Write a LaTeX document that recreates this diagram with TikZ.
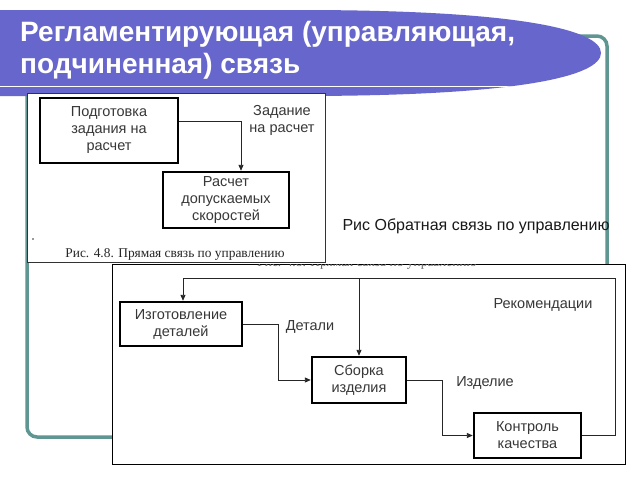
\documentclass[tikz,border=0pt]{standalone}
\usepackage{fontspec}
\setmainfont{Liberation Sans}
\newfontfamily\capserif{Liberation Serif}
\usetikzlibrary{arrows.meta}
\definecolor{titlebg}{RGB}{102,102,204}
\definecolor{frameteal}{RGB}{95,150,145}
\definecolor{txtgray}{RGB}{55,55,55}
\begin{document}
\begin{tikzpicture}[x=1pt,y=-1pt,
  blk/.style={draw=black, line width=2.4pt, fill=white, inner sep=0pt, align=center,
    text=txtgray, font=\fontsize{14.5}{17}\selectfont},
  lbl/.style={inner sep=0pt, align=center, text=txtgray, font=\fontsize{14.5}{17}\selectfont},
  conn/.style={draw=black!85, line width=0.9pt, -{Triangle[length=6pt,width=5pt]}},
  figframe/.style={fill=white, inner sep=0pt, anchor=north west},
  capstyle/.style={inner sep=0pt, font=\capserif\fontsize{13.4}{15}\selectfont, text=black!85}]
\useasboundingbox (0,0) rectangle (640,480);
\fill[white] (0,0) rectangle (640,480);
% teal frame
\draw[frameteal, line width=3.5pt, rounded corners=10pt] (27,36) rectangle (607,437);
% title shape
\path[fill=titlebg] (0,10) -- (300,10) .. controls (520,10) and (601,30) .. (601,53)
  .. controls (601,76) and (520,96) .. (300,96) -- (0,96) -- cycle;
\begin{scope}
  \clip (0,10) -- (300,10) .. controls (520,10) and (601,30) .. (601,53)
  .. controls (601,76) and (520,96) .. (300,96) -- (0,96) -- cycle;
  \draw[white, line width=1.5pt] (0,86.5) -- (640,86.5);
\end{scope}
\node[anchor=west, inner sep=0pt, align=left, text=white,
  font=\fontsize{28}{32}\selectfont\bfseries] (title) at (20,50)
  {Регламентирующая (управляющая,\\подчиненная) связь};
% top figure
\node[figframe, draw=black!80, line width=0.8pt, minimum width=298pt, minimum height=169pt] (fig1) at (27,93) {};
\node[blk, minimum width=138pt, minimum height=65pt] (prep) at (109,130.5) {Подготовка\\задания на\\расчет};
\node[blk, minimum width=126pt, minimum height=56pt] (calc) at (226,200) {Расчет\\допускаемых\\скоростей};
\draw[conn] ([yshift=9.5pt]prep.east) -| ([xshift=15pt]calc.north);
\node[lbl] (lab1) at (282,120) {Задание\\на расчет};
\fill[black!80] (33,239) circle (0.8);
\node[capstyle] (cap1) at (175,254) {Рис. 4.8. Прямая связь по управлению};
% caption of second figure
\node[lbl, text=black!90, font=\fontsize{16}{18}\selectfont] (cap2) at (476,226) {Рис Обратная связь по управлению};
% bottom figure
\node[figframe, draw=black, line width=1.3pt, minimum width=513pt, minimum height=200pt] (fig2) at (112,263.5) {};
\begin{scope}
  \clip (113,264.5) rectangle (624,275);
  \node[capstyle, text=black!60] (ghost) at (367,263.5) {Рис. 4.8. Прямая связь по управлению};
\end{scope}
\node[blk, minimum width=122pt, minimum height=44pt] (izg) at (181,324) {Изготовление\\деталей};
\node[blk, minimum width=94pt, minimum height=46pt] (sbor) at (359,380) {Сборка\\изделия};
\node[blk, minimum width=107pt, minimum height=45pt] (kontr) at (527.5,435.5) {Контроль\\качества};
\coordinate (fbr) at (615,278);
\draw[conn] (kontr.east) -| (fbr) -| ([xshift=2pt]izg.north);
\draw[conn] (sbor.north |- fbr) -- (sbor.north);
\draw[conn] (izg.east) -- ++(35,0) |- (sbor.west);
\draw[conn] (sbor.east) -- ++(35,0) |- (kontr.west);
\node[lbl] (ldet) at (310,327) {Детали};
\node[lbl] (lizd) at (485,383) {Изделие};
\node[lbl] (lrec) at (543,305) {Рекомендации};
\end{tikzpicture}
\end{document}
